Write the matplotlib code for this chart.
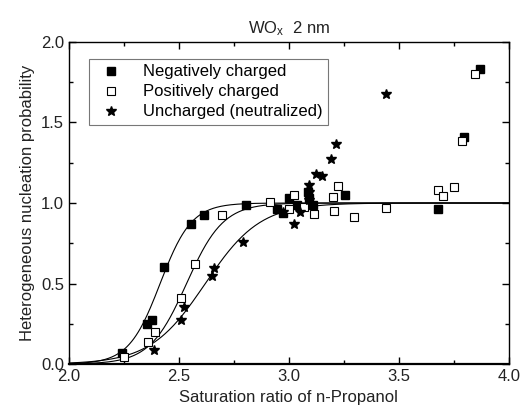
import numpy as np
import matplotlib.pyplot as plt
from matplotlib.ticker import MultipleLocator

plt.rcParams['font.family'] = ['Liberation Sans', 'DejaVu Sans']
plt.rcParams['mathtext.default'] = 'regular'

neg_x = [2.243, 2.357, 2.38, 2.431, 2.557, 2.615, 2.805, 2.947, 2.972, 3.0, 3.036,
         3.086, 3.09, 3.108, 3.253, 3.678, 3.796, 3.868]
neg_y = [0.068, 0.25, 0.275, 0.60, 0.867, 0.923, 0.988, 0.96, 0.935, 1.028, 0.99,
         1.068, 1.03, 0.985, 1.047, 0.965, 1.407, 1.834]

pos_x = [2.251, 2.361, 2.39, 2.512, 2.573, 2.698, 2.914, 3.002, 3.022, 3.07, 3.116,
         3.2, 3.207, 3.222, 3.298, 3.443, 3.678, 3.702, 3.749, 3.787, 3.845]
pos_y = [0.043, 0.14, 0.20, 0.41, 0.623, 0.925, 1.005, 0.963, 1.05, 0.975, 0.932,
         1.037, 0.948, 1.107, 0.915, 0.968, 1.083, 1.045, 1.097, 1.383, 1.80]

unc_x = [2.387, 2.509, 2.524, 2.65, 2.661, 2.79, 2.972, 3.025, 3.051, 3.09, 3.09,
         3.093, 3.121, 3.151, 3.192, 3.212, 3.443]
unc_y = [0.085, 0.271, 0.354, 0.55, 0.596, 0.755, 0.946, 0.87, 0.942, 1.02, 1.07,
         1.11, 1.18, 1.17, 1.275, 1.366, 1.679]

# Sigmoid fit parameters (centre, steepness) for each series
fit_params = {
    'neg': (2.415, 14.0),
    'pos': (2.535, 12.0),
    'unc': (2.62, 8.0),
}


def sigmoid(x, x0, k):
    return 1.0 / (1.0 + np.exp(-k * (x - x0)))


fs = 12
fig = plt.figure(figsize=(5.21, 4.19), dpi=100)
ax = fig.add_axes([0.132, 0.131, 0.845, 0.769])

xs = np.linspace(2.0, 4.0, 400)
for key in ['neg', 'pos', 'unc']:
    x0, k = fit_params[key]
    ax.plot(xs, sigmoid(xs, x0, k), color='black', lw=0.8, zorder=2)

ax.plot(neg_x, neg_y, 's', color='black', ms=5.2, ls='none',
        label='Negatively charged', zorder=3)
ax.plot(pos_x, pos_y, 's', mfc='white', mec='black', mew=0.8, ms=5.2, ls='none',
        label='Positively charged', zorder=3)
ax.plot(unc_x, unc_y, '*', color='black', ms=7.5, ls='none',
        label='Uncharged (neutralized)', zorder=3)

ax.set_xlim(2.0, 4.0)
ax.set_ylim(0.0, 2.0)
ax.xaxis.set_major_locator(MultipleLocator(0.5))
ax.xaxis.set_minor_locator(MultipleLocator(0.25))
ax.yaxis.set_major_locator(MultipleLocator(0.5))
ax.yaxis.set_minor_locator(MultipleLocator(0.25))
ax.tick_params(which='both', direction='in', top=True, right=True, labelsize=fs,
               labelcolor='#222222')
ax.tick_params(which='major', length=5, width=1)
ax.tick_params(which='minor', length=3, width=1)
ax.xaxis.set_major_formatter(plt.FormatStrFormatter('%.1f'))
ax.yaxis.set_major_formatter(plt.FormatStrFormatter('%.1f'))
for side in ['left', 'right', 'top']:
    ax.spines[side].set_linewidth(1.0)
ax.spines['bottom'].set_linewidth(1.6)

ax.set_xlabel('Saturation ratio of n-Propanol', fontsize=fs, color='#222222')
ax.set_ylabel('Heterogeneous nucleation probability', fontsize=fs, color='#222222')
ax.set_title('WO$_x$  2 nm', fontsize=fs, color='#222222')

leg = ax.legend(loc='upper left', bbox_to_anchor=(0.045, 0.948), fontsize=fs,
                frameon=True, fancybox=False, handletextpad=0.9, labelspacing=0.3,
                borderpad=0.35, borderaxespad=0.0)
leg.get_frame().set_edgecolor('#555555')
leg.get_frame().set_linewidth(0.8)

fig.savefig('out.png', dpi=100)
